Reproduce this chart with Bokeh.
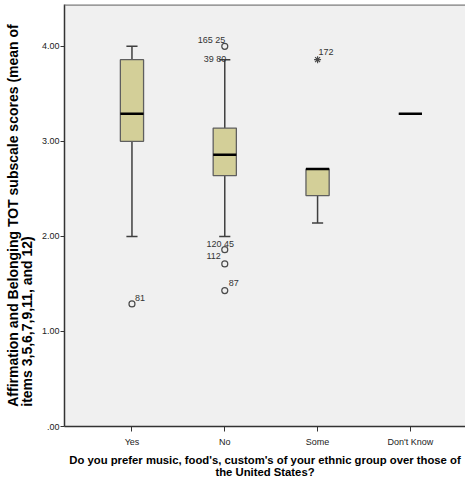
from bokeh.plotting import figure
from bokeh.models import Range1d, FixedTicker, Span, ColumnDataSource, Title
from bokeh.core.properties import value
from bokeh.embed import file_html
from bokeh.resources import INLINE

# ---- data ----
categories = ["Yes", "No", "Some", "Don't Know"]
lower_whisker = [2.00, 2.00, 2.14, 3.29]
q1 = [3.00, 2.64, 2.43, 3.29]
median = [3.29, 2.86, 2.71, 3.29]
q3 = [3.86, 3.14, 2.71, 3.29]
upper_whisker = [4.00, 3.86, 2.71, 3.29]

outlier_group = ["Yes", "No", "No", "No", "No"]
outlier_value = [1.29, 4.00, 1.86, 1.71, 1.43]

extreme_group = ["Some"]
extreme_value = [3.86]

label_group = ["Yes", "No", "No", "No", "No", "No", "Some"]
label_value = [1.29, 4.00, 4.00, 1.86, 1.86, 1.43, 3.86]
label_text = ["81", "165  25", "39  80", "120   45", "112", "87", "172"]

y_ticks = [0, 1, 2, 3, 4]
y_tick_labels = [".00", "1.00", "2.00", "3.00", "4.00"]

y_title = "Affirmation and Belonging TOT subscale scores (mean of\nitems 3,5,6,7,9,11, and 12)"
x_title = "Do you prefer music, food's, custom's of your ethnic group over those of\nthe United States?"

# ---- layout / style ----
label_x_off = [3, 3, 4, -2, -4, 4, 1]
label_y_off = [-6, -6, 13, -6, 6, -8, -8]
label_align = ["left", "right", "right", "center", "right", "left", "left"]

BOX_W = 0.25
CAP_W = 0.12
X_START, X_END = 0.273, 4.594
Y_START, Y_END = 0.0, 4.44

SANS = "Liberation Sans"

pos = {c: i + 1 for i, c in enumerate(categories)}
xs = [pos[c] for c in categories]

p = figure(width=465, height=480, output_backend="svg", toolbar_location=None,
           x_range=Range1d(X_START, X_END), y_range=Range1d(Y_START, Y_END),
           min_border_left=61, min_border_right=0, min_border_top=4, min_border_bottom=53)

p.background_fill_color = "#F0F0F0"
p.border_fill_color = "white"
p.outline_line_color = None
p.xgrid.visible = False
p.ygrid.visible = False

# top border
p.add_layout(Span(location=Y_END, dimension="width", line_color="#7f7f7f", line_width=2.5))

# whiskers
wc = "#3f3f3f"
p.segment(x0=xs, y0=lower_whisker, x1=xs, y1=q1, line_color=wc, line_width=1.5)
p.segment(x0=xs, y0=q3, x1=xs, y1=upper_whisker, line_color=wc, line_width=1.5)
p.segment(x0=[x - CAP_W / 2 for x in xs], y0=lower_whisker,
          x1=[x + CAP_W / 2 for x in xs], y1=lower_whisker, line_color=wc, line_width=1.5)
p.segment(x0=[x - CAP_W / 2 for x in xs], y0=upper_whisker,
          x1=[x + CAP_W / 2 for x in xs], y1=upper_whisker, line_color=wc, line_width=1.5)

# boxes
p.vbar(x=xs, width=BOX_W, bottom=q1, top=q3, fill_color="#D3CF98",
       line_color="#5f5f5f", line_width=1.3)

# medians
p.segment(x0=[x - BOX_W / 2 for x in xs], y0=median,
          x1=[x + BOX_W / 2 for x in xs], y1=median, line_color="black", line_width=2.5)

# outliers
p.scatter(x=[pos[c] for c in outlier_group], y=outlier_value, marker="circle", size=6,
          fill_color=None, line_color="#4a4a4a", line_width=1.2)
p.scatter(x=[pos[c] for c in extreme_group], y=extreme_value, marker="asterisk", size=7,
          line_color="#4a4a4a", line_width=1.2)

# case labels
src = ColumnDataSource(dict(x=[pos[c] for c in label_group], y=label_value, text=label_text,
                            xo=label_x_off, yo=label_y_off, align=label_align))
p.text(x="x", y="y", text="text", x_offset="xo", y_offset="yo", text_align="align",
       source=src, text_font=value(SANS), text_font_size="9px",
       text_color="#333333", text_baseline="alphabetic")

# axes
p.yaxis.ticker = FixedTicker(ticks=y_ticks)
p.yaxis.major_label_overrides = {t: l for t, l in zip(y_ticks, y_tick_labels)}
p.xaxis.ticker = FixedTicker(ticks=xs)
p.xaxis.major_label_overrides = {x: c for x, c in zip(xs, categories)}

for ax in (p.xaxis, p.yaxis):
    ax.axis_line_color = "#333333"
    ax.axis_line_width = 1.5
    ax.major_tick_line_color = "#333333"
    ax.major_tick_in = 0
    ax.minor_tick_line_color = None
    ax.major_label_text_font = SANS
    ax.major_label_text_font_size = "9px"
    ax.major_label_text_color = "#222222"

p.yaxis.major_tick_out = 4
p.xaxis.major_tick_out = 5
p.yaxis.major_label_standoff = 1
p.xaxis.major_label_standoff = 5

yt = Title(text=y_title, align="center", standoff=6,
           text_font=SANS, text_font_style="bold", text_font_size="14px",
           text_line_height=0.88, text_color="black")
p.add_layout(yt, "left")

p.xaxis.axis_label = x_title
p.xaxis.axis_label_text_font = SANS
p.xaxis.axis_label_text_font_style = "bold"
p.xaxis.axis_label_text_font_size = "11.3px"
p.xaxis.axis_label_text_line_height = 1.0
p.xaxis.axis_label_standoff = 4
p.xaxis.axis_label_text_color = "black"

open("out.html", "w").write(file_html(p, INLINE))
